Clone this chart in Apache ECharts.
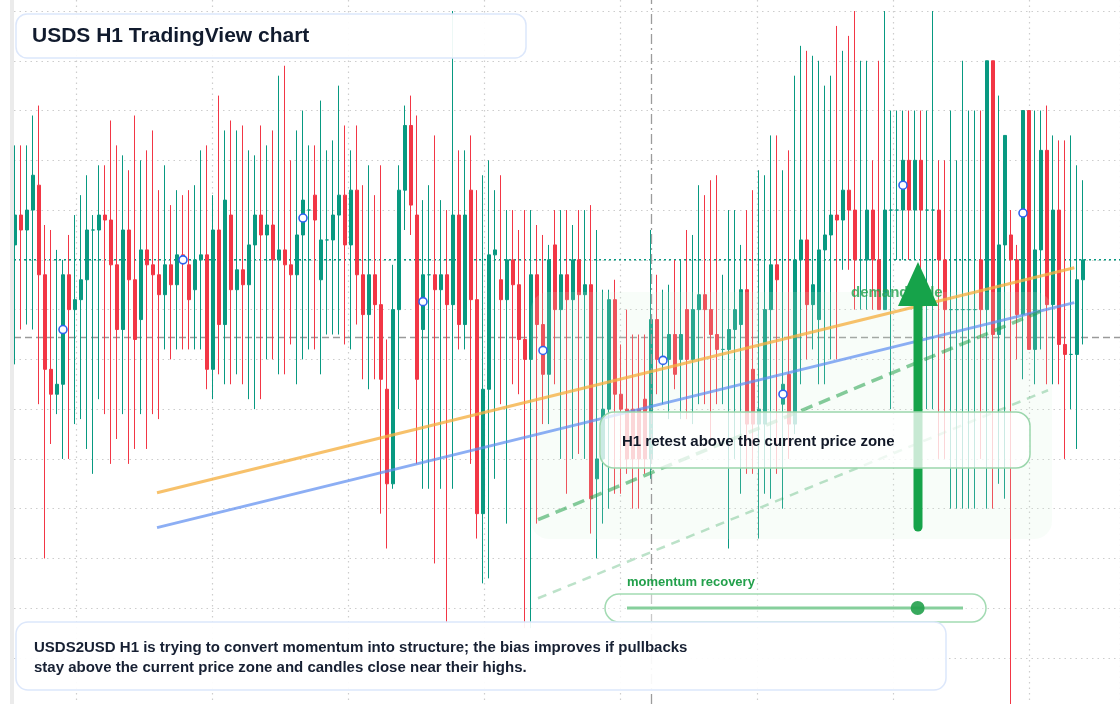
<!DOCTYPE html>
<html>
<head>
<meta charset="utf-8">
<title>USDS H1 TradingView chart</title>
<script src="https://cdn.jsdelivr.net/npm/echarts@6/dist/echarts.min.js"></script>
<style>
  html, body { margin: 0; padding: 0; background: #ffffff; }
  #main { width: 1120px; height: 704px; }
</style>
</head>
<body>
<div id="main"></div>
<script>
// ---- data (USDS2USD, 1h candles) ----
const opens = [
  1.00015, 1.00045, 1.0003, 1.0005, 1.00075, 0.99985, 0.9989, 0.99865, 0.99875, 0.99985,
  0.9995, 0.9996, 0.9998, 1.0003, 1.0003, 1.00045, 1.0004, 0.99995, 0.9993, 1.0003,
  0.9998, 0.9994, 1.0001, 0.99995, 0.99985, 0.99965, 0.99995, 0.99975, 1.00005, 0.99995,
  0.9997, 1.0, 1.00005, 0.9989, 1.0003, 0.99935, 1.00045, 0.9997, 0.9999, 0.99975,
  1.00015, 1.00045, 1.00025, 1.00035, 1.0, 1.0001, 0.99995, 0.99985, 1.00025, 1.0005,
  1.00065, 0.9998, 1.0002, 1.0002, 1.00045, 1.00065, 1.00015, 1.0007, 0.99985, 0.99945,
  0.99985, 0.99955, 0.9987, 0.99775, 0.9995, 1.0007, 1.00135, 1.00045, 0.9993, 0.99985,
  0.99985, 0.9997, 0.99985, 0.99955, 1.00045, 0.99935, 1.0007, 0.9996, 0.99745, 0.9987,
  1.00005, 0.9998, 0.9996, 1.0, 0.99975, 0.9992, 0.999, 0.99985, 0.99935, 0.99885,
  1.00015, 0.9995, 0.99985, 0.9996, 1.0, 0.99965, 0.99975, 0.9978, 0.998, 0.9985,
  0.9996, 0.99865, 0.9985, 0.9985, 0.9985, 0.9986, 0.998, 0.9994, 0.999, 0.999,
  0.99925, 0.999, 0.9995, 0.999, 0.9995, 0.99965, 0.9995, 0.99925, 0.9991, 0.9991,
  0.9993, 0.99935, 0.9997, 0.9989, 0.99835, 0.99835, 0.9995, 0.99995, 0.99855, 0.99885,
  0.99835, 1.0, 1.0002, 0.99955, 0.9994, 1.0001, 1.00025, 1.00045, 1.0004, 1.0007,
  1.0005, 1.0, 1.0, 1.0005, 1.0, 0.9995, 1.0005, 1.0005, 1.0005, 1.001,
  1.0005, 1.001, 1.0005, 1.0005, 1.0005, 1.0, 0.9995, 0.9995, 0.9995, 0.9995,
  0.9995, 1.0, 0.9995, 1.002, 0.99925, 1.00015, 1.00025, 1.0, 0.99945, 1.0015,
  0.9991, 1.0001, 1.0011, 0.99955, 1.0005, 0.99915, 0.99905, 0.99905, 0.9998
];
const closes = [
  1.00045, 1.0003, 1.0005, 1.00085, 0.99985, 0.9989, 0.99865, 0.99875, 0.99985, 0.9995,
  0.9996, 0.9998, 1.0003, 1.0003, 1.00045, 1.0004, 0.99995, 0.9993, 1.0003, 0.9998,
  0.9992, 1.0001, 0.99995, 0.99985, 0.99965, 0.99995, 0.99975, 1.00005, 1.0, 0.9996,
  1.0, 1.00005, 0.9989, 1.0003, 0.99935, 1.0006, 0.9997, 0.9999, 0.99975, 1.00015,
  1.00045, 1.00025, 1.00035, 1.0, 1.0001, 0.99995, 0.99985, 1.00025, 1.0006, 1.0005,
  1.0004, 1.0002, 1.0002, 1.00045, 1.00065, 1.00015, 1.0007, 0.99985, 0.99945, 0.99985,
  0.99955, 0.9988, 0.99775, 0.9995, 1.0007, 1.00135, 1.00055, 0.9988, 0.99985, 0.99985,
  0.9997, 0.99985, 0.99955, 1.00045, 0.99935, 1.00045, 0.9996, 0.99745, 0.9987, 1.00005,
  1.0001, 0.9996, 1.0, 0.99975, 0.9992, 0.999, 0.99985, 0.99935, 0.99885, 1.0,
  0.9995, 0.99985, 0.9996, 1.0, 0.99965, 0.99975, 0.9976, 0.998, 0.9985, 0.9996,
  0.99865, 0.9985, 0.998, 0.998, 0.998, 0.998, 0.9994, 0.999, 0.999, 0.99925,
  0.99885, 0.99925, 0.999, 0.9995, 0.99965, 0.9995, 0.99925, 0.9991, 0.9991, 0.9993,
  0.9995, 0.9997, 0.99835, 0.99835, 0.9985, 0.9995, 0.99995, 0.9998, 0.99875, 0.99835,
  1.0, 1.0002, 0.99955, 0.99975, 1.0001, 1.00025, 1.00045, 1.0004, 1.0007, 1.0005,
  1.0, 1.0, 1.0005, 1.0, 0.9995, 1.0005, 1.0005, 1.0005, 1.001, 1.0005,
  1.001, 1.0005, 1.0005, 1.0005, 1.0, 0.9995, 0.9995, 0.9995, 0.9995, 0.9995,
  0.9995, 0.9995, 1.002, 0.99925, 1.00015, 1.00125, 1.0, 0.99945, 1.0015, 0.9991,
  1.0001, 1.0011, 0.99955, 1.0005, 0.99915, 0.99905, 0.99905, 0.9998, 1.0
];
const highs = [
  1.00115, 1.00115, 1.00115, 1.00145, 1.00155, 1.00035, 1.0003, 1.0001, 1.0, 1.00025,
  1.00045, 1.00065, 1.00085, 1.00045, 1.00095, 1.00095, 1.0014, 1.00115, 1.00105, 1.0009,
  1.00145, 1.001, 1.0011, 1.0013, 1.0007, 1.00095, 1.00055, 1.0007, 1.00065, 1.0007,
  1.00075, 1.0011, 1.00115, 1.00065, 1.00165, 1.0013, 1.0014, 1.0013, 1.00135, 1.0011,
  1.00105, 1.00135, 1.00115, 1.0013, 1.00185, 1.00195, 1.001, 1.0013, 1.0015, 1.00115,
  1.00115, 1.0016, 1.0011, 1.0012, 1.00175, 1.00135, 1.0011, 1.00135, 1.00075, 1.00095,
  1.00065, 1.00095, 0.9992, 0.99995, 1.00095, 1.00155, 1.00165, 1.00145, 1.0006, 1.00075,
  1.00125, 1.0006, 1.0005, 1.0025, 1.0011, 1.0011, 1.00125, 1.0007, 1.00085, 1.001,
  1.0007, 1.00085, 1.0005, 1.0005, 1.0003, 1.0005, 1.0005, 1.00035, 1.00025, 1.00015,
  1.0005, 1.0005, 1.0005, 1.00035, 1.0005, 1.0005, 1.00055, 1.0003, 0.9997, 0.9997,
  0.9998, 0.99915, 0.9995, 0.99925, 0.99925, 0.99925, 1.0003, 0.99985, 0.9997, 0.99975,
  1.0, 1.0, 1.0003, 1.00025, 1.00075, 1.00065, 1.0008, 1.00085, 0.99985, 1.0005,
  1.0005, 1.00015, 1.0005, 1.0007, 1.0009, 1.00085, 1.00125, 1.00125, 1.0009, 1.0011,
  1.00185, 1.00215, 1.0021, 1.00205, 1.002, 1.00175, 1.00185, 1.00235, 1.0021, 1.00225,
  1.0025, 1.002, 1.002, 1.001, 1.002, 1.0025, 1.0015, 1.0015, 1.0015, 1.0015,
  1.0015, 1.0015, 1.0015, 1.0025, 1.001, 1.001, 1.0015, 1.001, 1.002, 1.0015,
  1.0015, 1.0015, 1.002, 1.002, 1.00165, 1.00125, 1.0005, 1.00015, 1.0015, 1.0015,
  1.0015, 1.0015, 1.00155, 1.00125, 1.0012, 1.0012, 1.00125, 1.00095, 1.0008
];
const lows = [
  0.99895, 0.9993, 0.99935, 0.9993, 0.99855, 0.997, 0.99815, 0.99845, 0.998, 0.998,
  0.99835, 0.9984, 0.9981, 0.99785, 0.9986, 0.99845, 0.99795, 0.9982, 0.99845, 0.99795,
  0.9981, 0.99845, 0.9981, 0.99845, 0.9984, 0.9991, 0.999, 0.9991, 0.9991, 0.9991,
  0.9991, 0.9991, 0.9987, 0.9986, 0.99885, 0.99875, 0.99875, 0.99885, 0.99875, 0.9986,
  0.9985, 0.9986, 0.999, 0.999, 0.99885, 0.99885, 0.99915, 0.99875, 0.999, 0.9991,
  0.9991, 0.99885, 0.99925, 0.99925, 0.99925, 0.99915, 0.9991, 0.99935, 0.9988, 0.9987,
  0.9988, 0.99745, 0.9971, 0.9977, 0.9985, 1.0003, 1.00025, 0.99795, 0.9977, 0.9977,
  0.99695, 0.9977, 0.99635, 0.9977, 0.9991, 0.9991, 0.99795, 0.9972, 0.99675, 0.9968,
  0.9978, 0.99855, 0.99735, 0.99875, 0.99865, 0.9963, 0.9963, 0.99735, 0.99835, 0.99835,
  0.99875, 0.998, 0.99765, 0.998, 0.99805, 0.998, 0.99725, 0.997, 0.99735, 0.9975,
  0.99765, 0.99765, 0.99785, 0.9975, 0.9975, 0.99785, 0.9978, 0.99865, 0.99855, 0.9984,
  0.9987, 0.9984, 0.9984, 0.99835, 0.99855, 0.99855, 0.9982, 0.99855, 0.99855, 0.9971,
  0.998, 0.99765, 0.99785, 0.99785, 0.9972, 0.99765, 0.9976, 0.99785, 0.9975, 0.998,
  0.99825, 0.99875, 0.999, 0.9991, 0.99875, 0.99875, 0.999, 0.999, 0.9999, 0.9999,
  0.9995, 0.9995, 0.9995, 0.9995, 0.9995, 0.9995, 0.9985, 1.0, 1.0, 1.0,
  1.0, 0.998, 0.9985, 0.9985, 0.998, 0.998, 0.9975, 0.9975, 0.9975, 0.9975,
  0.9975, 0.998, 0.9975, 0.9975, 0.99775, 0.9976, 0.9955, 0.999, 0.9988, 0.9991,
  0.99875, 0.9991, 0.99875, 0.99875, 0.99875, 0.998, 0.9985, 0.9981, 0.99915
];

const lastPrice = 1.0;        // teal dotted price line
const zonePrice = 0.99922;    // current price zone (grey dashed)
const cursorIdx = 106;        // dash-dot crosshair candle

const markerIdx = [8, 28, 48, 68, 88, 108, 128, 148, 168];
const markerPrice = [0.9993, 1.0, 1.00042, 0.99958, 0.99909, 0.99899, 0.99865, 1.00075, 1.00047];

// trend lines, [candle index, price]
const orangeTrend = [[23.67, 0.99766], [176.55, 0.99992]];
const blueTrend = [[23.67, 0.99731], [176.55, 0.99957]];
const supportMain = [[87.17, 0.99739], [171.67, 0.9995]];
const supportLow = [[87.17, 0.9966], [172.17, 0.99869]];

const momentum = 0.865;       // position of the recovery slider

// ---- chart ----
const FONT = '"Liberation Sans", Arial, Helvetica, sans-serif';
const UP = '#089981';
const DOWN = '#f23645';

const hours = opens.map((_, i) => {
  const d = new Date(Date.UTC(2024, 5, 3, 0) + i * 3600000);
  return d.toISOString().slice(5, 13).replace('T', ' ') + ':00';
});
const candles = opens.map((o, i) => [o, closes[i], lows[i], highs[i]]);

// price range of the candle pane: grid lines 1.0025 at y=11 and 0.9960 at y=658
const pxPerUnit = 647 / 0.0065;
const yMax = 1.0025 + 11 / pxPerUnit;
const yMin = 0.996 - 46 / pxPerUnit;

const dotted = { color: '#cdcdcd', width: 1.2, type: [1.5, 4] };
const hidden = { axisLine: { show: false }, axisTick: { show: false }, axisLabel: { show: false } };

const chart = echarts.init(document.getElementById('main'));

const option = {
  animation: false,
  backgroundColor: '#ffffff',
  textStyle: { fontFamily: FONT },
  grid: [
    { left: 14, right: 0, top: 11, bottom: 46 },
    { left: 76, right: -60, top: 0, bottom: 0 },
    { left: 12, right: 34, top: 0, bottom: 0 }
  ],
  xAxis: [
    { gridIndex: 0, type: 'value', min: 0, max: 1, show: false },
    Object.assign({ gridIndex: 1, type: 'value', min: 0, max: 1104, interval: 144,
      splitLine: { show: true, lineStyle: dotted } }, hidden),
    { gridIndex: 2, type: 'category', data: hours, boundaryGap: true, show: false },
    { gridIndex: 2, type: 'value', min: -0.5, max: 178.5, show: false }
  ],
  yAxis: [
    Object.assign({ gridIndex: 0, type: 'value', min: 0.996, max: 1.0025, interval: 0.0005,
      splitLine: { show: true, lineStyle: dotted } }, hidden),
    { gridIndex: 1, type: 'value', min: 0, max: 1, show: false },
    { gridIndex: 2, type: 'value', min: yMin, max: yMax, show: false }
  ],
  series: [
    {
      type: 'line', xAxisIndex: 0, yAxisIndex: 0, z: 1, silent: true, symbol: 'none',
      data: [[0, lastPrice], [1, lastPrice]],
      lineStyle: { color: UP, width: 1.5, type: [2, 3] }
    },
    {
      type: 'line', xAxisIndex: 0, yAxisIndex: 0, z: 1, silent: true, symbol: 'none',
      data: [[0, zonePrice], [1, zonePrice]],
      lineStyle: { color: '#9a9a9a', width: 1.5, type: [7, 4] }
    },
    {
      type: 'candlestick', xAxisIndex: 2, yAxisIndex: 2, z: 2,
      data: candles,
      barWidth: 4,
      itemStyle: {
        color: UP, color0: DOWN,
        borderColor: UP, borderColor0: DOWN, borderColorDoji: UP,
        borderWidth: 1
      },
      markLine: {
        silent: true, symbol: 'none', label: { show: false },
        lineStyle: { color: '#9c9c9c', width: 1.3, type: [10, 4, 2, 4] },
        data: [{ xAxis: cursorIdx }]
      }
    },
    {
      type: 'line', xAxisIndex: 3, yAxisIndex: 2, z: 5, silent: true, symbol: 'none',
      data: orangeTrend,
      lineStyle: { color: '#f5b041', width: 3, opacity: 0.78 }
    },
    {
      type: 'line', xAxisIndex: 3, yAxisIndex: 2, z: 5, silent: true, symbol: 'none',
      data: blueTrend,
      lineStyle: { color: '#5f8ff0', width: 3, opacity: 0.72 }
    },
    {
      type: 'line', xAxisIndex: 3, yAxisIndex: 2, z: 5, silent: true, symbol: 'none',
      data: supportMain,
      lineStyle: { color: '#22a04b', width: 3.5, opacity: 0.55, type: [12, 7] }
    },
    {
      type: 'line', xAxisIndex: 3, yAxisIndex: 2, z: 5, silent: true, symbol: 'none',
      data: supportLow,
      lineStyle: { color: '#22a04b', width: 2.5, opacity: 0.3, type: [9, 7] }
    },
    {
      type: 'scatter', xAxisIndex: 2, yAxisIndex: 2, z: 6, silent: true,
      symbol: 'circle', symbolSize: 8,
      data: markerIdx.map((i, k) => [i, markerPrice[k]]),
      itemStyle: { color: '#ffffff', borderColor: '#2f62ee', borderWidth: 1.6, opacity: 1 }
    }
  ],
  graphic: [
    // left pane edge
    { type: 'rect', z: 10, shape: { x: 10, y: 0, width: 4, height: 704 }, style: { fill: '#ebebeb' } },
    // demand zone shading
    { type: 'rect', z: 3, shape: { x: 531, y: 292, width: 521, height: 247, r: 18 },
      style: { fill: 'rgba(210,243,220,0.16)' } },
    { type: 'text', z: 7, style: { x: 851, y: 293, text: 'demand side', fill: 'rgba(34,160,75,0.8)',
      font: 'bold 15px ' + FONT, verticalAlign: 'middle' } },
    // arrow
    { type: 'line', z: 8, shape: { x1: 918, y1: 527, x2: 918, y2: 300 },
      style: { stroke: '#16a34a', lineWidth: 9, lineCap: 'round' } },
    { type: 'polygon', z: 8, shape: { points: [[918, 262], [898, 306], [938, 306]] },
      style: { fill: '#16a34a' } },
    // retest callout
    { type: 'rect', z: 9, shape: { x: 600, y: 412, width: 430, height: 56, r: 14 },
      style: { fill: 'rgba(255,255,255,0.76)', stroke: '#9bd6ac', lineWidth: 1.5 } },
    { type: 'text', z: 10, style: { x: 622, y: 442, text: 'H1 retest above the current price zone',
      fill: '#111827', font: 'bold 15px ' + FONT, verticalAlign: 'middle' } },
    // momentum slider
    { type: 'text', z: 10, style: { x: 627, y: 582, text: 'momentum recovery', fill: '#22a04b',
      font: 'bold 13px ' + FONT, verticalAlign: 'middle' } },
    { type: 'rect', z: 9, shape: { x: 605, y: 594, width: 381, height: 28, r: 14 },
      style: { fill: 'rgba(255,255,255,0.45)', stroke: '#a3dbb3', lineWidth: 1.5 } },
    { type: 'line', z: 10, shape: { x1: 627, y1: 608, x2: 963, y2: 608 },
      style: { stroke: '#86cf9c', lineWidth: 3 } },
    { type: 'circle', z: 11, shape: { cx: 627 + (963 - 627) * momentum, cy: 608, r: 7 },
      style: { fill: 'rgba(34,160,75,0.9)' } },
    // title
    { type: 'rect', z: 9, shape: { x: 16, y: 14, width: 510, height: 44, r: 11 },
      style: { fill: 'rgba(255,255,255,0.93)', stroke: '#dce7fb', lineWidth: 1.5 } },
    { type: 'text', z: 10, style: { x: 32, y: 36, text: 'USDS H1 TradingView chart', fill: '#111b2e',
      font: 'bold 21px ' + FONT, verticalAlign: 'middle' } },
    // note
    { type: 'rect', z: 9, shape: { x: 16, y: 622, width: 930, height: 68, r: 12 },
      style: { fill: 'rgba(255,255,255,0.93)', stroke: '#dce7fb', lineWidth: 1.5 } },
    { type: 'text', z: 10, style: { x: 34, y: 658,
      text: 'USDS2USD H1 is trying to convert momentum into structure; the bias improves if pullbacks\nstay above the current price zone and candles close near their highs.',
      fill: '#172033', font: 'bold 15px ' + FONT, lineHeight: 20, verticalAlign: 'middle' } }
  ]
};

chart.setOption(option);
</script>
</body>
</html>
